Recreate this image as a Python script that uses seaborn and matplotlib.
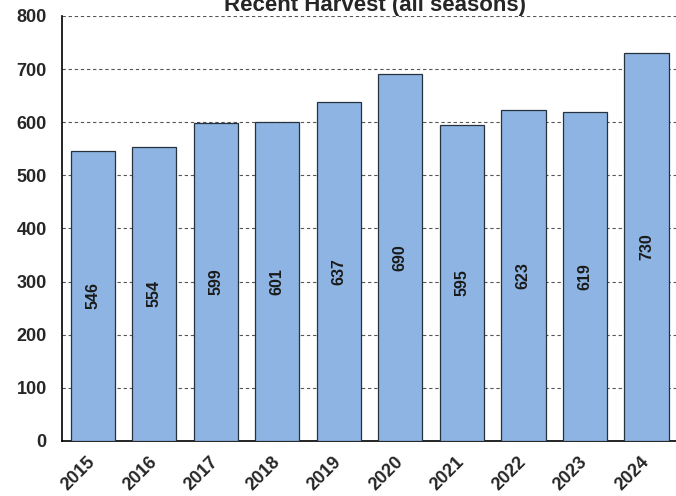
import numpy as np
import pandas as pd
import seaborn as sns
import matplotlib.pyplot as plt

years = ['2015', '2016', '2017', '2018', '2019', '2020', '2021', '2022', '2023', '2024']
harvest = [546, 554, 599, 601, 637, 690, 595, 623, 619, 730]
yticks = [0, 100, 200, 300, 400, 500, 600, 700, 800]

df = pd.DataFrame({'Year': years, 'Harvest': harvest})

sns.set_style('white')
plt.rcParams['font.family'] = ['Liberation Sans', 'DejaVu Sans']

fig = plt.figure(figsize=(6.76, 4.96), dpi=100)
ax = fig.add_axes([0.0917, 0.111, 0.910, 0.857])

sns.barplot(data=df, x='Year', y='Harvest', color='#8db4e2', edgecolor='#27323f',
            linewidth=0.9, width=0.72, saturation=1, ax=ax, zorder=3)

ax.set_ylim(0, 800)
ax.set_xlim(-0.5, len(years) - 0.5)
ax.set_yticks(yticks)
ax.set_yticklabels([str(t) for t in yticks], fontsize=13, fontweight='bold')
ax.yaxis.grid(True, linestyle=(0, (3, 2.5)), color='#555555', linewidth=0.8, zorder=0)
ax.set_axisbelow(True)

# ticks at category boundaries, labels under bar centers
ax.set_xticks(np.arange(-0.5, len(years)), minor=True)
ax.tick_params(axis='x', which='minor', length=5, width=1, color='black', direction='out')
ax.tick_params(axis='x', which='major', length=0, pad=13)
ax.tick_params(axis='y', length=6, width=1, color='black', direction='out', pad=5)
ax.set_xticks(range(len(years)))
ax.set_xticklabels(years, rotation=45, ha='right', va='center', rotation_mode='anchor',
                   fontsize=13, fontweight='bold')

for s in ['top', 'right']:
    ax.spines[s].set_visible(False)
for s in ['left', 'bottom']:
    ax.spines[s].set_color('black')
    ax.spines[s].set_linewidth(1.2)

for i, v in enumerate(harvest):
    ax.text(i, v / 2, str(v), rotation=90, ha='center', va='center',
            fontsize=11.5, fontweight='bold', color='#1a1a1a', zorder=4)

ax.set_xlabel('')
ax.set_ylabel('')
fig.text(0.555, 0.978, 'Recent Harvest (all seasons)', ha='center', va='baseline',
         fontsize=16, fontweight='bold')

fig.savefig('out.png', dpi=100)
